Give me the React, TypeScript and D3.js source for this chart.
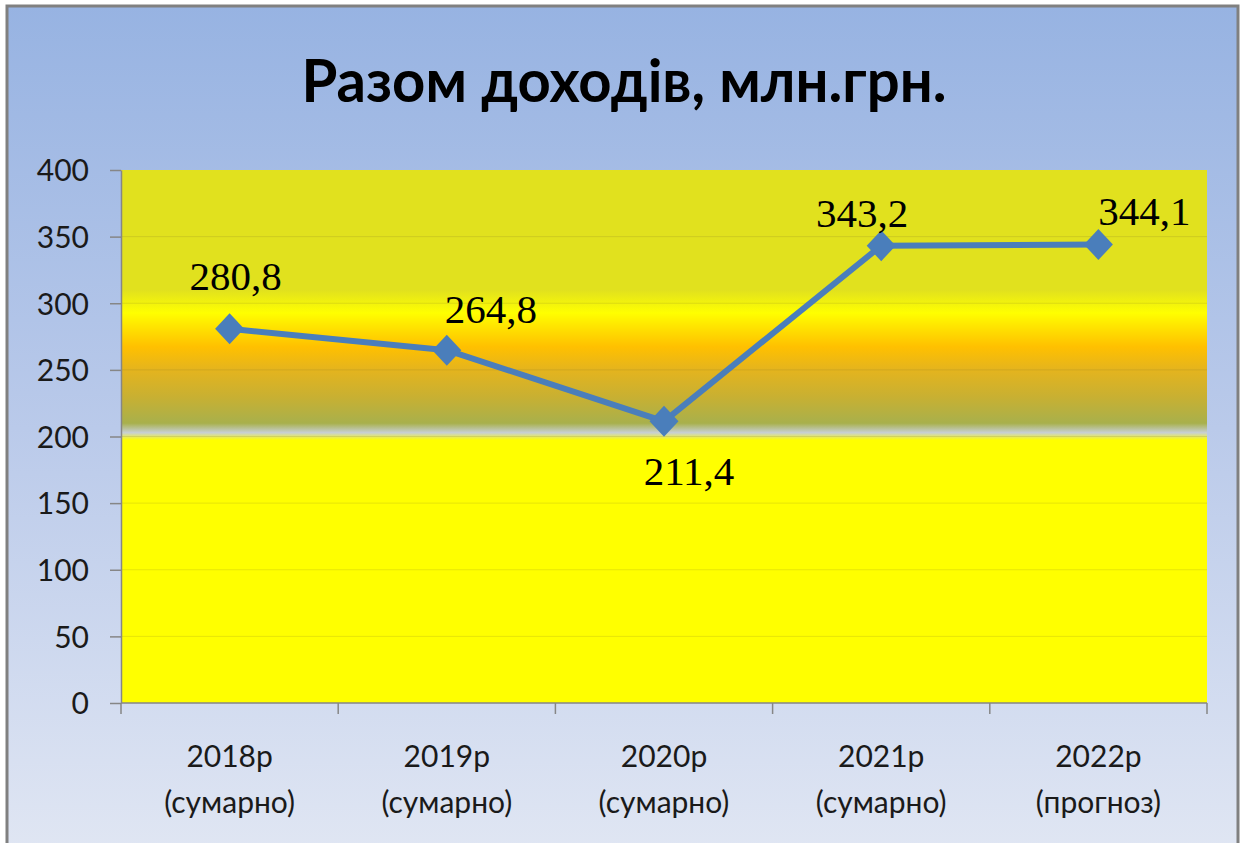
import React, { Component } from 'react';
import * as d3 from "d3";

// chart data
const categories = ["2018р", "2019р", "2020р", "2021р", "2022р"];
const subLabels = ["(сумарно)", "(сумарно)", "(сумарно)", "(сумарно)", "(прогноз)"];
const values = [280.8, 264.8, 211.4, 343.2, 344.1];
const valueLabels = ["280,8", "264,8", "211,4", "343,2", "344,1"];
const yTicks = [0, 50, 100, 150, 200, 250, 300, 350, 400];
const title = "Разом доходів, млн.грн.";

// label nudges, the labels were placed by hand in the original
const labelShift: [number, number][] = [[6, -39], [44, -27], [25, 64], [-19, -19], [46, -19]];

class Chart extends Component {
  componentDidMount() {
    this.renderChart();
  }
  renderChart() {
    const width = 1245, height = 843;
    d3.selectAll("#chart > *").remove();

    const svg = d3.select("#chart")
      .append("svg")
      .attr("width", width)
      .attr("height", height)
      .style("display", "block");

    const defs = svg.append("defs");

    // outer blue background
    const bg = defs.append("linearGradient")
      .attr("id", "outerBg")
      .attr("x1", 0).attr("y1", 0).attr("x2", 0).attr("y2", 1);
    [[0, "#97b3e2"], [0.5, "#bacaea"], [1, "#e0e6f3"]].forEach(([o, c]) => {
      bg.append("stop").attr("offset", o as number).attr("stop-color", c as string);
    });

    // plot area band: olive top, yellow, orange, olive, grey stripe, yellow
    const pg = defs.append("linearGradient")
      .attr("id", "plotBg")
      .attr("x1", 0).attr("y1", 0).attr("x2", 0).attr("y2", 1);
    const plotStops: [number, string][] = [
      [0, "#e1e11e"], [0.225, "#e1e11e"], [0.268, "#ffff00"], [0.29, "#ffe800"],
      [0.332, "#ffc000"], [0.375, "#e4b41e"], [0.426, "#c8b032"], [0.475, "#a8b04c"],
      [0.493, "#c8d0d4"], [0.507, "#ffff00"], [1, "#ffff00"]
    ];
    plotStops.forEach(([o, c]) => {
      pg.append("stop").attr("offset", o).attr("stop-color", c);
    });

    svg.append("rect")
      .attr("x", 7).attr("y", 6)
      .attr("width", 1231).attr("height", 845)
      .attr("fill", "url(#outerBg)")
      .attr("stroke", "#808080")
      .attr("stroke-width", 3);

    const left = 121, right = 1207, top = 170, bottom = 703;

    var x = d3.scaleBand<string>()
      .domain(categories)
      .range([left, right]);

    var y = d3.scaleLinear()
      .domain([0, 400])
      .range([bottom, top]);

    svg.append("rect")
      .attr("x", left).attr("y", top)
      .attr("width", right - left).attr("height", bottom - top)
      .attr("fill", "url(#plotBg)");

    // gridlines
    svg.append("g")
      .selectAll("line")
      .data(yTicks.filter(t => t > 0 && t < 400))
      .enter().append("line")
      .attr("x1", left).attr("x2", right)
      .attr("y1", d => y(d)).attr("y2", d => y(d))
      .attr("stroke", "rgba(120,110,40,0.18)")
      .attr("stroke-width", 1);

    // y axis
    const yAxis = svg.append("g")
      .attr("transform", "translate(" + left + ",0)")
      .call(d3.axisLeft(y).tickValues(yTicks).tickSize(11).tickPadding(21).tickSizeOuter(0));
    yAxis.select(".domain").attr("stroke", "#868686").attr("stroke-width", 1.5);
    yAxis.selectAll(".tick line").attr("stroke", "#868686").attr("stroke-width", 1.5);
    yAxis.selectAll(".tick text")
      .attr("fill", "#1a1a1a")
      .attr("font-family", "Lato, 'Open Sans', sans-serif")
      .attr("font-size", 30)
      .attr("dy", "0.36em");

    // x axis, ticks sit on the band edges
    const edges = categories.map(c => x(c) as number).concat([right]);
    const xAxis = svg.append("g");
    xAxis.append("line")
      .attr("x1", left).attr("x2", right)
      .attr("y1", bottom).attr("y2", bottom)
      .attr("stroke", "#868686").attr("stroke-width", 1.5);
    xAxis.selectAll(".xt")
      .data(edges)
      .enter().append("line")
      .attr("class", "xt")
      .attr("x1", d => d).attr("x2", d => d)
      .attr("y1", bottom).attr("y2", bottom + 11)
      .attr("stroke", "#868686").attr("stroke-width", 1.5);

    const xLab = xAxis.selectAll(".xl")
      .data(categories)
      .enter().append("text")
      .attr("class", "xl")
      .attr("text-anchor", "middle")
      .attr("fill", "#1a1a1a")
      .attr("font-family", "Lato, 'Open Sans', sans-serif")
      .attr("font-size", 30);
    xLab.append("tspan")
      .attr("x", d => (x(d) as number) + x.bandwidth() / 2)
      .attr("y", 767)
      .text(d => d);
    xLab.append("tspan")
      .attr("x", d => (x(d) as number) + x.bandwidth() / 2)
      .attr("y", 813)
      .text((d, i) => subLabels[i]);

    // title
    svg.append("text")
      .attr("x", 624)
      .attr("y", 102)
      .attr("text-anchor", "middle")
      .attr("font-family", "Lato, 'Open Sans', sans-serif")
      .attr("font-weight", "bold")
      .attr("font-size", 60)
      .attr("textLength", 645)
      .attr("lengthAdjust", "spacingAndGlyphs")
      .attr("fill", "#000")
      .text(title);

    // the line
    const px = (i: number) => (x(categories[i]) as number) + x.bandwidth() / 2;
    const line = d3.line<number>()
      .x((d, i) => px(i))
      .y(d => y(d));

    svg.append("path")
      .datum(values)
      .attr("fill", "none")
      .attr("stroke", "#4a7ebb")
      .attr("stroke-width", 6)
      .attr("stroke-linejoin", "round")
      .attr("d", line);

    // diamond markers
    svg.append("g")
      .selectAll("path")
      .data(values)
      .enter().append("path")
      .attr("transform", (d, i) => "translate(" + px(i) + "," + y(d) + ")")
      .attr("d", "M0,-15.5L14.5,0L0,15.5L-14.5,0Z")
      .attr("fill", "#4a7ebb");

    // value labels
    svg.append("g")
      .selectAll("text")
      .data(values)
      .enter().append("text")
      .attr("x", (d, i) => px(i) + labelShift[i][0])
      .attr("y", (d, i) => y(d) + labelShift[i][1])
      .attr("text-anchor", "middle")
      .attr("font-family", "'Liberation Serif', 'Times New Roman', serif")
      .attr("font-size", 41)
      .attr("fill", "#000")
      .text((d, i) => valueLabels[i]);
  }
  render() {
    return (<div id="chart" style={{ position: "absolute", left: 0, top: 0 }}></div>);
  }
}

export default function App() {
  return <Chart />;
}
